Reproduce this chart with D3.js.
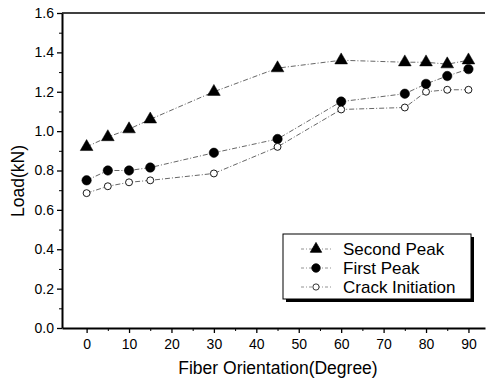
<!DOCTYPE html>
<html>
<head>
<meta charset="utf-8">
<script src="https://cdn.jsdelivr.net/npm/d3@7"></script>
<style>
  body { margin: 0; background: #fff; }
  svg { display: block; font-family: "Liberation Sans", Arial, sans-serif; }
</style>
</head>
<body>
<div id="chart"></div>
<script>
// Fiber orientation (degree) and measured loads (kN)
const angles = [0, 5, 10, 15, 30, 45, 60, 75, 80, 85, 90];
const secondPeak = [0.92, 0.97, 1.01, 1.06, 1.20, 1.32, 1.36, 1.35, 1.35, 1.34, 1.36];
const firstPeak = [0.75, 0.80, 0.80, 0.815, 0.89, 0.96, 1.15, 1.19, 1.24, 1.28, 1.315];
const crackInit = [0.685, 0.72, 0.74, 0.75, 0.785, 0.92, 1.11, 1.12, 1.20, 1.21, 1.21];
const xTicks = [0, 10, 20, 30, 40, 50, 60, 70, 80, 90];
const yTicks = [0, 0.2, 0.4, 0.6, 0.8, 1.0, 1.2, 1.4, 1.6];
const seriesNames = ['Second Peak', 'First Peak', 'Crack Initiation'];

const W = 487, H = 379;
const margin = { top: 13, right: 2, bottom: 51, left: 62 };

const svg = d3.select('#chart').append('svg')
    .attr('width', W)
    .attr('height', H);

const x = d3.scaleLinear().domain([-5.8, 93.9]).range([margin.left, W - margin.right]);
const y = d3.scaleLinear().domain([0, 1.6]).range([H - margin.bottom, margin.top]);

// Top frame line
svg.append('line')
    .attr('x1', x.range()[0]).attr('x2', x.range()[1])
    .attr('y1', y(1.6)).attr('y2', y(1.6))
    .attr('stroke', '#000').attr('stroke-width', 1.5);

// Minor ticks
const xAxisMinor = d3.axisBottom(x).tickValues(d3.range(5, 95, 10)).tickSize(3).tickFormat('');
const yAxisMinor = d3.axisLeft(y).tickValues(d3.range(0.1, 1.6, 0.2)).tickSize(3).tickFormat('');
svg.append('g').attr('transform', `translate(0,${y(0)})`).call(xAxisMinor)
    .call(g => g.select('.domain').remove());
svg.append('g').attr('transform', `translate(${margin.left},0)`).call(yAxisMinor)
    .call(g => g.select('.domain').remove());

// Major axes
const xAxis = d3.axisBottom(x).tickValues(xTicks).tickSize(5).tickSizeOuter(0).tickPadding(6);
const yAxis = d3.axisLeft(y).tickValues(yTicks).tickSize(5).tickSizeOuter(0).tickPadding(3)
    .tickFormat(d3.format('.1f'));

const gx = svg.append('g').attr('transform', `translate(0,${y(0)})`).call(xAxis);
const gy = svg.append('g').attr('transform', `translate(${margin.left},0)`).call(yAxis);

[gx, gy].forEach(g => {
    g.select('.domain').attr('stroke-width', 2);
    g.selectAll('.tick line').attr('stroke-width', 1.3);
    g.selectAll('.tick text').attr('font-size', 14).attr('fill', '#000');
});

// Axis titles
svg.append('text')
    .attr('x', 278)
    .attr('y', 374)
    .attr('text-anchor', 'middle')
    .attr('font-size', 17.5)
    .text('Fiber Orientation(Degree)');

svg.append('text')
    .attr('transform', 'translate(24,181) rotate(-90)')
    .attr('text-anchor', 'middle')
    .attr('font-size', 17.5)
    .text('Load(kN)');

// Series
const line = d3.line()
    .x(d => x(d[0]))
    .y(d => y(d[1]));

const series = [
    { name: seriesNames[0], values: secondPeak, symbol: d3.symbolTriangle, size: 70, fill: '#000' },
    { name: seriesNames[1], values: firstPeak, symbol: d3.symbolCircle, size: 70, fill: '#000' },
    { name: seriesNames[2], values: crackInit, symbol: d3.symbolCircle, size: 38, fill: '#fff' }
];

series.forEach(s => {
    const pts = angles.map((a, i) => [a, s.values[i]]);
    svg.append('path')
        .datum(pts)
        .attr('d', line)
        .attr('fill', 'none')
        .attr('stroke', '#555')
        .attr('stroke-width', 0.9)
        .attr('stroke-dasharray', '5,2,1,2');
    svg.append('g').selectAll('path')
        .data(pts)
        .join('path')
        .attr('transform', d => `translate(${x(d[0])},${y(d[1])})`)
        .attr('d', d3.symbol().type(s.symbol).size(s.size))
        .attr('fill', s.fill)
        .attr('stroke', '#000')
        .attr('stroke-width', s.fill === '#fff' ? 0.9 : 0.5);
});

// Legend with drop shadow
const lg = { x: 283, y: 234, w: 188, h: 65 };
svg.append('rect')
    .attr('x', lg.x + 3).attr('y', lg.y + 3)
    .attr('width', lg.w).attr('height', lg.h)
    .attr('fill', '#000');
svg.append('rect')
    .attr('x', lg.x).attr('y', lg.y)
    .attr('width', lg.w).attr('height', lg.h)
    .attr('fill', '#fff')
    .attr('stroke', '#000')
    .attr('stroke-width', 1);

series.forEach((s, i) => {
    const base = lg.y + 21 + i * 19;
    const cy = base - 6;
    svg.append('line')
        .attr('x1', lg.x + 18).attr('x2', lg.x + 50)
        .attr('y1', cy).attr('y2', cy)
        .attr('stroke', '#777')
        .attr('stroke-width', 0.8)
        .attr('stroke-dasharray', '3,2,1,2');
    svg.append('path')
        .attr('transform', `translate(${lg.x + 33},${cy})`)
        .attr('d', d3.symbol().type(s.symbol).size(s.size * 0.8))
        .attr('fill', s.fill)
        .attr('stroke', '#000')
        .attr('stroke-width', 0.8);
    svg.append('text')
        .attr('x', lg.x + 60)
        .attr('y', base)
        .attr('font-size', 17)
        .text(s.name);
});
</script>
</body>
</html>
